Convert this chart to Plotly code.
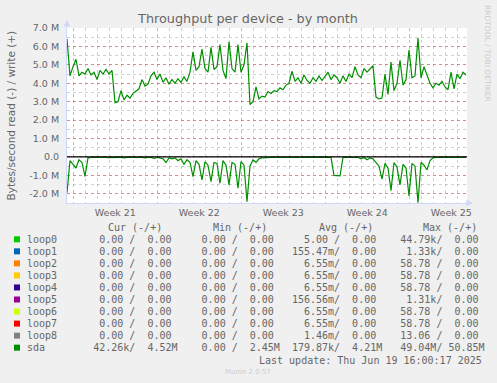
import plotly.graph_objects as go
import pandas as pd

# ---------------- data ----------------
# sda throughput in MB/s, one sample every 6 hours starting at the left edge
sda_write = [
    6.4, 4.4, 4.9, 5.3, 4.4, 4.6, 4.5, 4.8, 4.45, 4.6,
    4.2, 4.7, 4.5, 4.75, 4.5, 4.7, 2.95, 3.0, 3.6, 3.1,
    3.35, 3.2, 3.45, 3.6, 3.7, 4.2, 3.85, 3.95, 4.4, 4.6,
    4.2, 4.5, 4.05, 4.3, 3.95, 4.2, 4.0, 4.25, 4.05, 4.35,
    4.1, 4.6, 5.7, 4.7, 4.9, 5.85, 4.8, 4.6, 5.95, 4.75,
    4.9, 6.1, 4.7, 4.25, 6.25, 4.8, 4.6, 6.1, 4.6, 5.0,
    6.2, 2.85, 3.0, 3.8, 3.15, 3.3, 3.25, 3.55, 3.45, 3.6,
    3.55, 3.75, 3.65, 3.9, 4.0, 4.65, 4.1, 4.3, 4.0, 4.45,
    4.15, 4.0, 4.3, 4.1, 4.4, 4.15, 4.35, 4.6, 4.2, 4.45,
    4.3, 4.0, 4.4, 4.1, 4.5, 4.3, 4.9, 4.45, 4.3, 4.8,
    4.6, 4.75, 4.95, 3.25, 3.15, 3.2, 4.5, 3.4, 5.15, 3.6,
    4.0, 5.25, 3.9, 4.2, 5.8, 4.3, 4.4, 6.45, 4.3, 4.9,
    4.5, 4.0, 3.75, 4.0, 3.9, 4.1, 3.8, 3.65, 4.6, 3.7,
    4.5, 4.25, 4.6, 4.45,
]
sda_read = [
    1.94, 0.2, 0.4, 0.6, 0.15, 0.3, 1.05, 0.05, 0.03, 0.02,
    0.03, 0.02, 0.03, 0.02, 0.04, 0.02, 0.03, 0.02, 0.03, 0.05,
    0.02, 0.03, 0.02, 0.04, 0.03, 0.02, 0.05, 0.03, 0.02, 0.08,
    0.03, 0.05, 0.1, 0.3, 0.05, 0.1, 0.05, 0.2, 0.1, 0.4,
    0.15, 0.3, 1.07, 0.2, 0.4, 1.25, 0.25, 0.45, 1.34, 0.3,
    0.35, 1.43, 0.2, 0.45, 1.52, 0.3, 0.4, 1.7, 0.25, 0.45,
    2.43, 0.5, 0.15, 0.3, 0.1, 0.05, 0.03, 0.02, 0.03, 0.02,
    0.03, 0.02, 0.02, 0.03, 0.02, 0.03, 0.02, 0.02, 0.03, 0.02,
    0.02, 0.03, 0.02, 0.02, 0.03, 0.02, 0.02, 0.03, 0.02, 1.0,
    1.03, 1.03, 0.02, 0.03, 0.02, 0.05, 0.02, 0.03, 0.1, 0.03,
    0.15, 0.05, 0.1, 0.3, 0.5, 1.2, 0.35, 0.6, 1.83, 0.3,
    0.55, 1.52, 0.4, 0.6, 2.12, 0.35, 0.5, 2.48, 0.3, 0.45,
    0.7, 0.2, 0.05, 0.03, 0.02, 0.03, 0.02, 0.02, 0.03, 0.02,
    0.03, 0.02, 0.02, 0.03,
]

start = pd.Timestamp("2025-05-17 11:24")
span_hours = 800
sample_hours = 6
first_week = pd.Timestamp("2025-05-18")

y_ticks = [-2, -1, 0, 1, 2, 3, 4, 5, 6, 7]

# legend table
names = ["loop0", "loop1", "loop2", "loop3", "loop4", "loop5", "loop6", "loop7", "loop8", "sda"]
colors = ["#00CC00", "#0066B3", "#FF8000", "#FFCC00", "#330099",
          "#990099", "#CCFF00", "#FF0000", "#808080", "#008F00"]
cur_r = ["0.00", "0.00", "0.00", "0.00", "0.00", "0.00", "0.00", "0.00", "0.00", "42.26k"]
cur_w = ["0.00", "0.00", "0.00", "0.00", "0.00", "0.00", "0.00", "0.00", "0.00", "4.52M"]
min_r = ["0.00", "0.00", "0.00", "0.00", "0.00", "0.00", "0.00", "0.00", "0.00", "0.00"]
min_w = ["0.00", "0.00", "0.00", "0.00", "0.00", "0.00", "0.00", "0.00", "0.00", "2.45M"]
avg_r = ["5.00", "155.47m", "6.55m", "6.55m", "6.55m", "156.56m", "6.55m", "6.55m", "1.46m", "179.87k"]
avg_w = ["0.00", "0.00", "0.00", "0.00", "0.00", "0.00", "0.00", "0.00", "0.00", "4.21M"]
max_r = ["44.79k", "1.33k", "58.78", "58.78", "58.78", "1.31k", "58.78", "58.78", "13.06", "49.04M"]
max_w = ["0.00", "0.00", "0.00", "0.00", "0.00", "0.00", "0.00", "0.00", "0.00", "50.85M"]
headers = ["Cur (-/+)", "Min (-/+)", "Avg (-/+)", "Max (-/+)"]
last_update = "Last update: Thu Jun 19 16:00:17 2025"

# ---------------- layout geometry ----------------
W, H = 497, 383
PL, PR, PT, PB = 67, 467, 28, 203
FONT = "#666666"
AXIS = "#CFD6F8"


def px_x(px):
    return (px - PL) / (PR - PL)


def px_y(py):
    return (PB - py) / (PB - PT)


times = [start + pd.Timedelta(hours=sample_hours * i) for i in range(len(sda_write))]
end = start + pd.Timedelta(hours=span_hours)

fig = go.Figure()
fig.add_trace(go.Scatter(x=times, y=sda_write, mode="lines", xaxis="x", yaxis="y",
                         line=dict(color=colors[-1], width=1.2), showlegend=False))
fig.add_trace(go.Scatter(x=times, y=[-v for v in sda_read], mode="lines", xaxis="x2", yaxis="y",
                         line=dict(color=colors[-1], width=1.2), showlegend=False))

# week labels
week_starts = []
w = first_week
while w < end:
    week_starts.append(w)
    w += pd.Timedelta(days=7)
label_vals = [ws + pd.Timedelta(days=3.5) for ws in week_starts]
label_vals = [v for v in label_vals if start <= v <= end]
label_text = [f"Week {v.isocalendar().week}" for v in label_vals]

grid_major = "rgba(222,48,48,0.42)"
grid_minor = "rgba(143,143,143,0.42)"

fig.update_layout(
    width=W, height=H,
    margin=dict(l=PL, r=W - PR, t=PT, b=H - PB, pad=0),
    paper_bgcolor="#F0F0F0", plot_bgcolor="#FFFFFF",
    showlegend=False,
    title=dict(text="Throughput per device - by month", x=248 / W, xref="container", xanchor="center",
               y=1 - 19 / H, yanchor="middle",
               font=dict(family="DejaVu Sans", size=12.8, color=FONT)),
    xaxis=dict(type="date", range=[start, end], showticklabels=False, ticks="",
               tick0=first_week, dtick=7 * 86400000,
               showgrid=True, gridcolor=grid_major, griddash="dot", gridwidth=1,
               minor=dict(tick0=first_week, dtick=86400000, showgrid=True,
                          gridcolor=grid_minor, griddash="dot", gridwidth=1),
               showline=True, linecolor=AXIS, linewidth=1, zeroline=False),
    xaxis2=dict(type="date", overlaying="x", matches="x", anchor="y", side="bottom",
                tickmode="array", tickvals=label_vals, ticktext=label_text,
                showgrid=False, ticks="", showline=False, zeroline=False,
                ticklabelstandoff=2,
                tickfont=dict(family="DejaVu Sans", size=9.5, color=FONT)),
    yaxis=dict(range=[-2.5, 7], tickmode="array", tickvals=y_ticks,
               ticktext=[("0.0" if v == 0 else f"{v:.1f} M") for v in y_ticks],
               showgrid=True, gridcolor=grid_major, griddash="dot", gridwidth=1,
               minor=dict(tickmode="linear", tick0=0, dtick=0.5, showgrid=True,
                          gridcolor=grid_minor, griddash="dot", gridwidth=1),
               ticks="", ticklabelstandoff=5, zeroline=False,
               showline=True, linecolor=AXIS, linewidth=1,
               tickfont=dict(family="DejaVu Sans", size=9.5, color=FONT)),
)

# zero rule
fig.add_shape(type="line", xref="paper", yref="y", x0=0, x1=1, y0=0, y1=0,
              line=dict(color="#000000", width=1.3), layer="above")

ann = []
# axis arrows
ann.append(dict(xref="paper", yref="paper", x=0, y=px_y(20), ax=0, ay=9, text="",
                showarrow=True, arrowhead=2, arrowsize=1.3, arrowwidth=1, arrowcolor=AXIS))
ann.append(dict(xref="paper", yref="paper", x=px_x(473), y=0, ax=-9, ay=0, text="",
                showarrow=True, arrowhead=2, arrowsize=1.3, arrowwidth=1, arrowcolor=AXIS))
# y title
ann.append(dict(xref="paper", yref="paper", x=px_x(10), y=px_y((PT + PB) / 2),
                text="Bytes/second read (-) / write (+)", textangle=-90, showarrow=False,
                xanchor="center", yanchor="middle",
                font=dict(family="DejaVu Sans", size=10.5, color=FONT)))
# watermark
ann.append(dict(xref="paper", yref="paper", x=px_x(488), y=px_y(53), text="RRDTOOL / TOBI OETIKER",
                textangle=90, showarrow=False, xanchor="center", yanchor="middle",
                font=dict(family="DejaVu Sans", size=7.5, color="#CCCCCC")))
ann.append(dict(xref="paper", yref="paper", x=px_x(248), y=px_y(372), text="Munin 2.0.57",
                showarrow=False, xanchor="center", yanchor="middle",
                font=dict(family="DejaVu Sans", size=7, color="#CCCCCC")))


def field(a, b):
    def one(s):
        if s[-1].isalpha():
            return f"{s[:-1]:>6}{s[-1]}"
        return f"{s:>6} "
    return one(a) + "/" + one(b)


mono = dict(family="DejaVu Sans Mono", size=10, color=FONT)
NB = "\u00a0"
header_x = [106.5, 212, 317.5, 422]
for hx, htxt in zip(header_x, headers):
    ann.append(dict(xref="paper", yref="paper", x=px_x(hx), y=px_y(227.5), text=htxt.replace(" ", NB),
                    showarrow=False, xanchor="left", yanchor="middle", borderpad=0, font=mono))

ROW0, ROWH = 239.3, 12.04
for k, name in enumerate(names):
    line = (f"{name:<10}" + field(cur_r[k], cur_w[k]) + "  " + field(min_r[k], min_w[k]) + "  "
            + field(avg_r[k], avg_w[k]) + "  " + field(max_r[k], max_w[k]))
    yc = ROW0 + ROWH * k
    ann.append(dict(xref="paper", yref="paper", x=px_x(25.6), y=px_y(yc), text=line.replace(" ", NB),
                    showarrow=False, xanchor="left", yanchor="middle", borderpad=0, font=mono))
    fig.add_shape(type="rect", xref="paper", yref="paper",
                  x0=px_x(14), x1=px_x(20), y0=px_y(yc - 3), y1=px_y(yc + 3),
                  fillcolor=colors[k], line=dict(width=0), layer="above")

ann.append(dict(xref="paper", yref="paper", x=px_x(483), y=px_y(360), text=last_update.replace(" ", NB),
                showarrow=False, xanchor="right", yanchor="middle", borderpad=0, font=mono))

fig.update_layout(annotations=ann)
fig.write_html("out.html", config={"displayModeBar": False},
               post_script="document.body.style.margin='0';document.body.style.padding='0';")
